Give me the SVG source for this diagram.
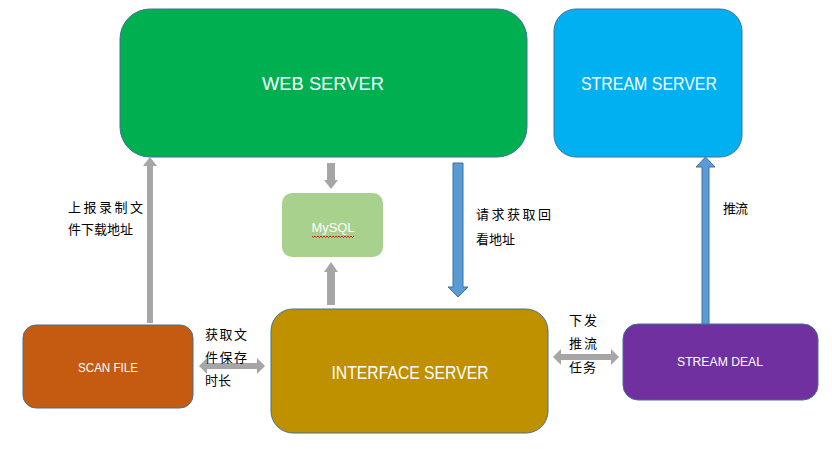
<svg xmlns="http://www.w3.org/2000/svg" width="832" height="449" viewBox="0 0 832 449">
<style>
.box{stroke:#41719C;stroke-width:1}
.lbl{font-family:"Liberation Sans","Noto Sans",sans-serif;fill:#FFFFFF;text-anchor:middle}
.cn{font-family:"Noto Sans CJK SC","Noto Sans",sans-serif;font-size:13px;fill:#000000}
.ga{fill:#A6A6A6}
.ba{fill:#5B9BD5;stroke:#41719C;stroke-width:1}
</style>
<rect width="832" height="449" fill="#FFFFFF"/>
<g id="web-server">
<rect class="box" x="120" y="9" width="407" height="148" rx="30" fill="#00B050"/>
<text class="lbl" x="323" y="90" font-size="19" textLength="122" lengthAdjust="spacingAndGlyphs">WEB SERVER</text>
</g>
<g id="stream-server">
<rect class="box" x="554" y="9" width="188" height="148" rx="22" fill="#00B0F0"/>
<text class="lbl" x="649" y="90" font-size="19" textLength="136" lengthAdjust="spacingAndGlyphs">STREAM SERVER</text>
</g>
<g id="mysql">
<rect x="282" y="193" width="101" height="64" rx="10" fill="#A9D18E"/>
<text class="lbl" x="333" y="232" font-size="12" textLength="43" lengthAdjust="spacingAndGlyphs">MySQL</text>
<path d="M312 236 l1.5 1.5 l1.5 -1.5 l1.5 1.5 l1.5 -1.5 l1.5 1.5 l1.5 -1.5 l1.5 1.5 l1.5 -1.5 l1.5 1.5 l1.5 -1.5 l1.5 1.5 l1.5 -1.5 l1.5 1.5 l1.5 -1.5 l1.5 1.5 l1.5 -1.5 l1.5 1.5 l1.5 -1.5 l1.5 1.5 l1.5 -1.5 l1.5 1.5 l1.5 -1.5 l1.5 1.5 l1.5 -1.5 l1.5 1.5 l1.5 -1.5 l1.5 1.5 l1.5 -1.5" fill="none" stroke="#C00000" stroke-width="0.8"/>
</g>
<g id="interface-server">
<rect class="box" x="271" y="309" width="277" height="124" rx="22" fill="#BF9000"/>
<text class="lbl" x="410" y="379" font-size="19" textLength="157" lengthAdjust="spacingAndGlyphs">INTERFACE SERVER</text>
</g>
<g id="scan-file">
<rect class="box" x="23" y="325" width="170" height="83" rx="13" fill="#C55A11"/>
<text class="lbl" x="108" y="372" font-size="12" textLength="60" lengthAdjust="spacingAndGlyphs">SCAN FILE</text>
</g>
<g id="stream-deal">
<rect class="box" x="623" y="324" width="195" height="76" rx="15" fill="#7030A0"/>
<text class="lbl" x="720" y="366" font-size="12" textLength="86" lengthAdjust="spacingAndGlyphs">STREAM DEAL</text>
</g>
<g id="connectors">
<path class="ga" d="M147 323 L147 166 L143 166 L150 157 L157 166 L153 166 L153 323 Z"/>
<path class="ga" d="M327 163 L335 163 L335 180 L338 180 L331 189 L324 180 L327 180 Z"/>
<path class="ga" d="M327 305 L327 272 L324 272 L331 262 L338 272 L335 272 L335 305 Z"/>
<path class="ba" d="M453 163 L463 163 L463 287 L468 287 L458 297 L448 287 L453 287 Z"/>
<path class="ba" d="M702 324 L702 167 L696 167 L705.5 157 L715 167 L709 167 L709 324 Z"/>
<path class="ga" d="M199 366 L207 358 L207 363 L257 363 L257 358 L265 366 L257 374 L257 369 L207 369 L207 374 Z"/>
<path class="ga" d="M553 357 L561 349 L561 354 L611 354 L611 349 L619 357 L611 365 L611 360 L561 360 L561 365 Z"/>
</g>
<g id="labels">
<text class="cn" x="68" y="212" textLength="75" lengthAdjust="spacing">上报录制文</text>
<text class="cn" x="68" y="234" textLength="65" lengthAdjust="spacing">件下载地址</text>
<text class="cn" x="205" y="339" textLength="42" lengthAdjust="spacing">获取文</text>
<text class="cn" x="205" y="362" textLength="42" lengthAdjust="spacing">件保存</text>
<text class="cn" x="205" y="385" textLength="26" lengthAdjust="spacing">时长</text>
<text class="cn" x="476" y="219" textLength="75" lengthAdjust="spacing">请求获取回</text>
<text class="cn" x="476" y="244" textLength="39" lengthAdjust="spacing">看地址</text>
<text class="cn" x="723" y="213" textLength="25" lengthAdjust="spacing">推流</text>
<text class="cn" x="569" y="325" textLength="28" lengthAdjust="spacing">下发</text>
<text class="cn" x="569" y="348" textLength="28" lengthAdjust="spacing">推流</text>
<text class="cn" x="569" y="372" textLength="27" lengthAdjust="spacing">任务</text>
</g>
</svg>
